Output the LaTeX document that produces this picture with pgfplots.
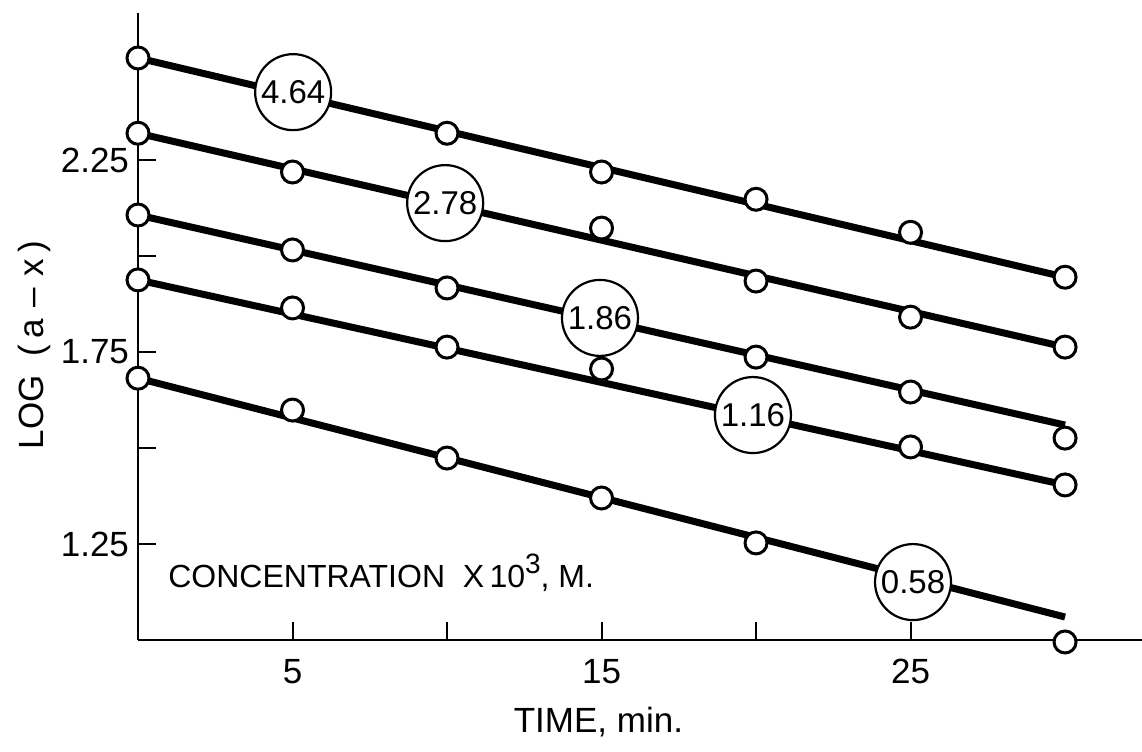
\documentclass[border=0pt]{standalone}
\usepackage{fontspec}
\setmainfont{Liberation Sans}
\usepackage{pgfplots}
\pgfplotsset{compat=1.18}

\begin{document}
\begin{tikzpicture}
\begin{axis}[
  scale only axis,
  width=502pt, height=313.5pt,
  xmin=0, xmax=32.49, ymin=1.0, ymax=2.633,
  axis lines=left,
  axis line style={-, line width=1pt},
  x axis line style={line width=1.4pt},
  xtick={5,10,15,20,25}, xticklabels={5,,15,,25},
  ytick={1.25,1.5,1.75,2.0,2.25}, yticklabels={1.25,,1.75,,2.25},
  tick align=inside,
  major tick length=9pt,
  tick style={line width=1pt, black},
  ticklabel style={font=\fontsize{17.5}{20}\selectfont},
  xticklabel style={yshift=-6pt},
  yticklabel style={xshift=-1pt},
  xlabel={TIME, min.},
  xlabel style={at={(axis description cs:0.4586,-0.148)}, anchor=base,
                font=\fontsize{17.5}{20}\selectfont},
  ylabel={LOG\ \ (\,a\,\,--\,\,x\,)},
  ylabel style={at={(axis description cs:-0.0946,0.47)}, anchor=base,
                font=\fontsize{17.5}{20}\selectfont},
  clip=false,
]
% fitted first-order lines, log(a-x) against time
\addplot[black, line width=3.5pt] coordinates {(0,2.516) (30,1.945)};
\addplot[black, line width=3.5pt] coordinates {(0,2.320) (30,1.763)};
\addplot[black, line width=3.5pt] coordinates {(0,2.107) (30,1.560)};
\addplot[black, line width=3.5pt] coordinates {(0,1.938) (30,1.404)};
\addplot[black, line width=3.5pt] coordinates {(0,1.682) (30,1.060)};

% measured points
\pgfplotsset{pts/.style={only marks, mark=*, mark size=5.5pt,
  mark options={fill=white, draw=black, line width=1.5pt}}}
% 4.64e-3 M
\addplot[pts] coordinates {(0,2.516) (10,2.320) (15,2.219) (20,2.148) (25,2.062) (30,1.945)};
% 2.78e-3 M
\addplot[pts] coordinates {(0,2.320) (5,2.219) (15,2.073) (20,1.935) (25,1.841) (30,1.763)};
% 1.86e-3 M
\addplot[pts] coordinates {(0,2.107) (5,2.016) (10,1.917) (20,1.737) (25,1.646) (30,1.526)};
% 1.16e-3 M
\addplot[pts] coordinates {(0,1.938) (5,1.865) (10,1.763) (15,1.706) (25,1.503) (30,1.404)};
% 0.58e-3 M
\addplot[pts] coordinates {(0,1.682) (5,1.599) (10,1.474) (15,1.370) (20,1.253) (30,0.995)};

% concentration tags on each line
\tikzset{tag/.style={circle, draw=black, line width=1.1pt, fill=white,
  minimum size=38pt, inner sep=0pt, font=\fontsize{16.5}{18}\selectfont}}
\node[tag] at (axis cs:5.02,2.427) {4.64};
\node[tag] at (axis cs:9.94,2.138) {2.78};
\node[tag] at (axis cs:14.95,1.839) {1.86};
\node[tag] at (axis cs:19.9,1.586) {1.16};
\node[tag] at (axis cs:25.08,1.151) {0.58};

\node[anchor=base west, inner sep=0pt, font=\fontsize{16}{18}\selectfont]
  at (axis cs:0.97,1.138) {CONCENTRATION\ \ X\,10\raisebox{7pt}{\fontsize{14}{16}\selectfont 3}, M.};

\coordinate (BL) at (axis cs:-4.466,0.711);
\coordinate (TR) at (axis cs:32.49,2.667);
\end{axis}
\pgfresetboundingbox
\useasboundingbox (BL) rectangle (TR);
\end{tikzpicture}
\end{document}
